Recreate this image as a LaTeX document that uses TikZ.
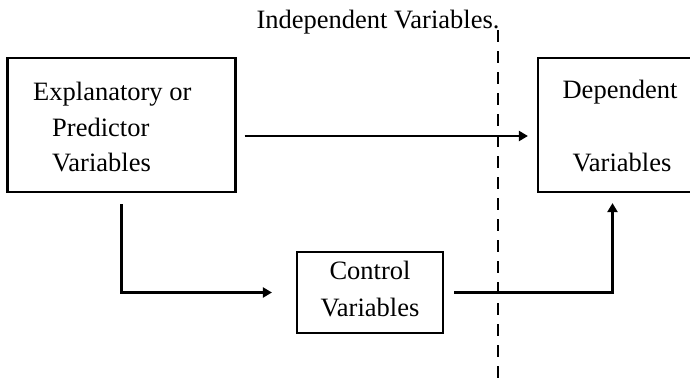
\documentclass[tikz,border=0pt]{standalone}
\usepackage{fontspec}
\setmainfont{Liberation Serif}
\usetikzlibrary{arrows.meta,calc}
\begin{document}
\begin{tikzpicture}[x=1pt,y=-1pt,
  box/.style={draw,line width=2.2pt,inner sep=0pt},
  lbl/.style={font=\fontsize{26.5}{35.5}\selectfont,inner sep=0pt,align=center},
  arr/.style={line width=2.2pt,-{Triangle[length=9pt,width=10pt]}},
  divider/.style={line width=2pt,dash pattern=on 12pt off 9pt}]
\useasboundingbox (0,0) rectangle (690,381);
% boxes
\node[box,minimum width=228pt,minimum height=134pt] (L) at (121.5,125) {};
\node[box,minimum width=153pt,minimum height=134pt] (R) at (614.5,125) {};
\node[box,minimum width=146pt,minimum height=81pt] (C) at (370,292.5) {};
% texts
\node[lbl,align=left,anchor=west] (Ltext) at (33,127.5) {Explanatory or\\\hspace*{19pt}Predictor\\\hspace*{19pt}Variables};
\node[lbl] (Rtext1) at (620,92) {Dependent};
\node[lbl] (Rtext2) at (622,163) {Variables};
\node[lbl,font=\fontsize{26.5}{37}\selectfont] (Ctext) at (370,288.5) {Control\\Variables};
\node[lbl,anchor=base] (title) at (378,28) {Independent Variables.};
% divider
\coordinate (dtop) at (498,30);
\coordinate (dbot) at (498,381);
\draw[divider] (dtop) -- (dbot);
% connectors
\draw[arr] ([xshift=8pt,yshift=-11pt]L.east) -- ([xshift=-9pt]R.west |- 0,136);
\draw[arr] ([yshift=-11pt]L.south) -- (L.south |- C.west) -- ([xshift=-24pt]C.west);
\draw[arr] ([xshift=10pt]C.east) -| ([xshift=-2pt,yshift=-10pt]R.south);
\end{tikzpicture}
\end{document}
